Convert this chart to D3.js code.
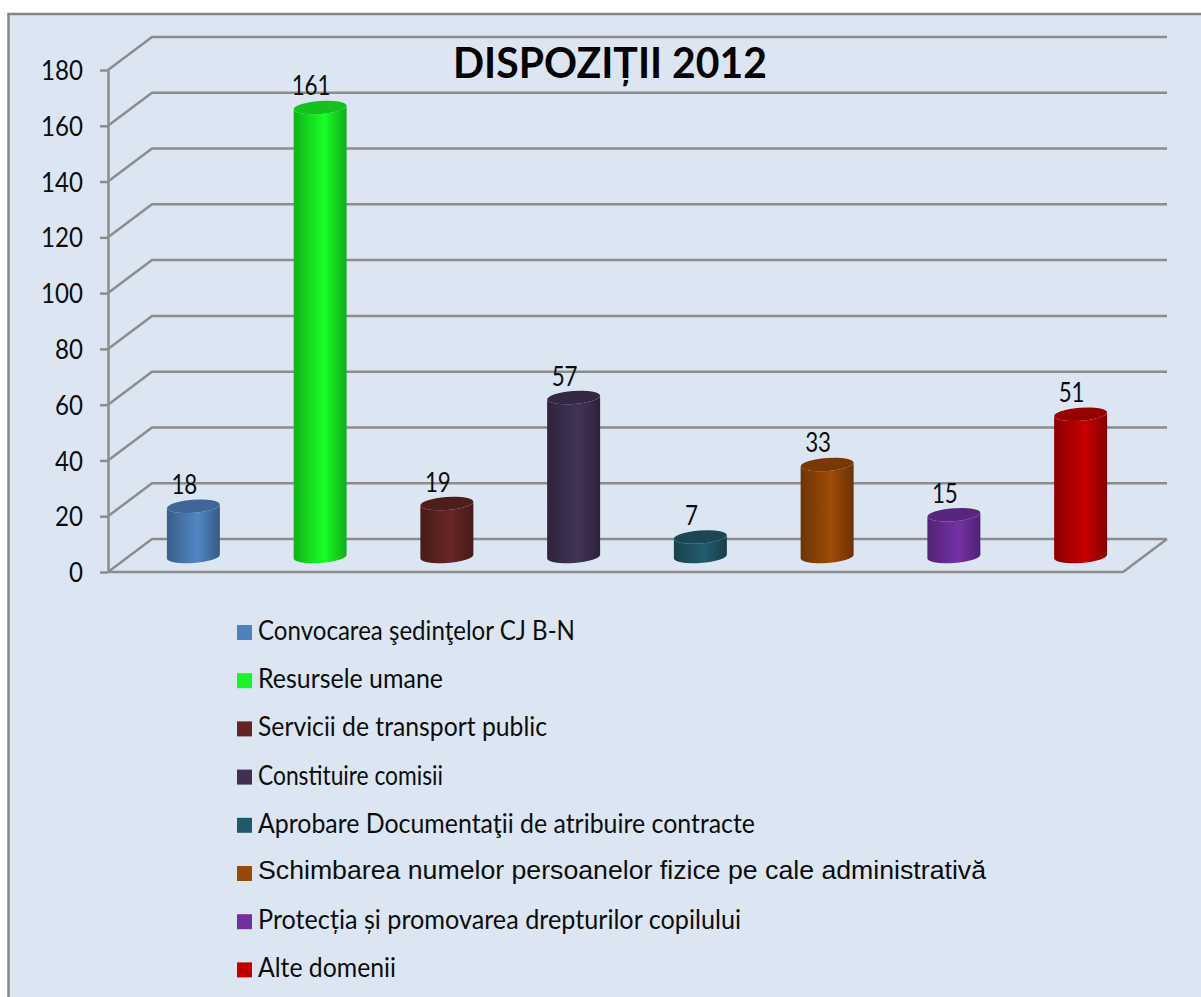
<!DOCTYPE html>
<html>
<head>
<meta charset="utf-8">
<script src="https://cdn.jsdelivr.net/npm/d3@7"></script>
<style>
  html, body { margin: 0; background: #fff; }
  svg { display: block; }
  text { font-family: Lato, "Noto Sans", sans-serif; fill: #0d0d0d; }
</style>
</head>
<body>
<div class="canva"></div>
<script>
const categories = [
    "Convocarea şedinţelor CJ B-N",
    "Resursele umane",
    "Servicii de transport public",
    "Constituire comisii",
    "Aprobare Documentaţii de atribuire contracte",
    "Schimbarea numelor persoanelor fizice pe cale administrativă",
    "Protecția și promovarea drepturilor copilului",
    "Alte domenii"
];
const values = [18, 161, 19, 57, 7, 33, 15, 51];
const barColors = ["#4f81bd", "#18f524", "#632523", "#403152", "#215968", "#984807", "#7030a0", "#c00000"];
const yTicks = [0, 20, 40, 60, 80, 100, 120, 140, 160, 180];
const titleText = "DISPOZIȚII 2012";

// widths of the legend labels in the picture, the original font is not installed
const legendWidths = [317, 185, 289, 185, 497, 728, 483, 138];

const width = 1201;
const height = 997;
const depth = {x: 44, y: 33};
const plot = {left: 108, right: 1123, top: 70, bottom: 572};
const digitWidth = 13;

const svg = d3.select(".canva").append("svg")
    .attr("width", width)
    .attr("height", height);

const defs = svg.append("defs");

// frame, the right and bottom sides fall outside the page
svg.append("rect")
    .attr("x", 8.5)
    .attr("y", 14)
    .attr("width", width + 20)
    .attr("height", height + 20)
    .attr("fill", "#dce6f2")
    .attr("stroke", "#868686")
    .attr("stroke-width", 2.5);

const x = d3.scaleBand()
    .domain(categories)
    .range([130, 1144])
    .paddingInner(0.582)
    .paddingOuter(0.291);

const y = d3.scaleLinear()
    .domain([0, 180])
    .range([plot.bottom, plot.top]);

const gridColor = "#8c8c8c";
const gridWidth = 2.5;

// walls of the 3d box
svg.append("g").selectAll("path")
    .data(yTicks)
    .enter()
    .append("path")
    .attr("fill", "none")
    .attr("stroke", gridColor)
    .attr("stroke-width", gridWidth)
    .attr("d", d => `M${plot.left},${y(d)}L${plot.left + depth.x},${y(d) - depth.y}L${plot.right + depth.x},${y(d) - depth.y}`);

// floor
svg.append("path")
    .attr("fill", "none")
    .attr("stroke", gridColor)
    .attr("stroke-width", gridWidth)
    .attr("d", `M${plot.left},${plot.bottom}L${plot.right},${plot.bottom}L${plot.right + depth.x},${plot.bottom - depth.y}`);

const axis = d3.axisLeft(y)
    .tickValues(yTicks)
    .tickSize(8)
    .tickSizeOuter(0)
    .tickPadding(17);

const axisGroup = svg.append("g")
    .attr("transform", `translate(${plot.left},0)`)
    .call(axis);

axisGroup.selectAll(".domain, .tick line")
    .attr("stroke", gridColor)
    .attr("stroke-width", gridWidth);

axisGroup.selectAll("text")
    .style("font-family", "Lato, 'Noto Sans', sans-serif")
    .style("font-size", "26px")
    .attr("fill", "#0d0d0d")
    .attr("dy", "0.37em")
    .attr("textLength", d => String(d).length * (digitWidth + 1))
    .attr("lengthAdjust", "spacingAndGlyphs");

// cylinders
const tilt = 4.3;
const ry = 6.5;
const baseLift = 15.5;
const rx = x.bandwidth() / 2;
const slope = rx * Math.sin(tilt * Math.PI / 180);

const bars = svg.append("g").selectAll("g")
    .data(categories)
    .enter()
    .append("g");

bars.each(function(d, i) {
    const base = d3.color(barColors[i]);
    const grad = defs.append("linearGradient").attr("id", "cyl" + i);
    grad.append("stop").attr("offset", "0%").attr("stop-color", base.darker(0.9));
    grad.append("stop").attr("offset", "58%").attr("stop-color", base.brighter(0.1));
    grad.append("stop").attr("offset", "100%").attr("stop-color", base.darker(1));

    const cx = x(d) + rx;
    const top = y(values[i]) - baseLift;
    const bottom = y(0) - baseLift;
    const g = d3.select(this);

    g.append("path")
        .attr("fill", `url(#cyl${i})`)
        .attr("d", `M${cx - rx},${top + slope}L${cx - rx},${bottom + slope}`
            + `A${rx},${ry} ${-tilt} 0 0 ${cx + rx},${bottom - slope}`
            + `L${cx + rx},${top - slope}`
            + `A${rx},${ry} ${-tilt} 0 1 ${cx - rx},${top + slope}Z`);

    g.append("ellipse")
        .attr("cx", cx)
        .attr("cy", top)
        .attr("rx", rx)
        .attr("ry", ry)
        .attr("transform", `rotate(${-tilt} ${cx} ${top})`)
        .attr("fill", base.darker(0.65));

    g.append("text")
        .attr("x", cx - 9)
        .attr("y", top - 12)
        .attr("text-anchor", "middle")
        .attr("textLength", String(values[i]).length * digitWidth)
        .attr("lengthAdjust", "spacingAndGlyphs")
        .style("font-size", "26px")
        .text(values[i]);
});

svg.append("text")
    .attr("x", 610)
    .attr("y", 78)
    .attr("text-anchor", "middle")
    .attr("textLength", 314)
    .attr("lengthAdjust", "spacingAndGlyphs")
    .style("font-size", "42px")
    .style("font-weight", "700")
    .style("fill", "#000")
    .text(titleText);

// legend
const legendRow = i => 640 + i * 48.2;

const legend = svg.append("g").selectAll("g")
    .data(categories)
    .enter()
    .append("g");

legend.append("rect")
    .attr("x", 237)
    .attr("y", (d, i) => legendRow(i) - 15)
    .attr("width", 15)
    .attr("height", 15)
    .attr("fill", (d, i) => barColors[i]);

legend.append("text")
    .attr("x", 258)
    .attr("y", (d, i) => i === 5 ? legendRow(i) - 2 : legendRow(i))
    .attr("textLength", (d, i) => legendWidths[i])
    .attr("lengthAdjust", "spacingAndGlyphs")
    .style("font-size", (d, i) => i === 5 ? "25px" : "26px")
    .style("font-family", (d, i) => i === 5 ? "'Liberation Sans', Arial, sans-serif" : null)
    .text(d => d);
</script>
</body>
</html>
